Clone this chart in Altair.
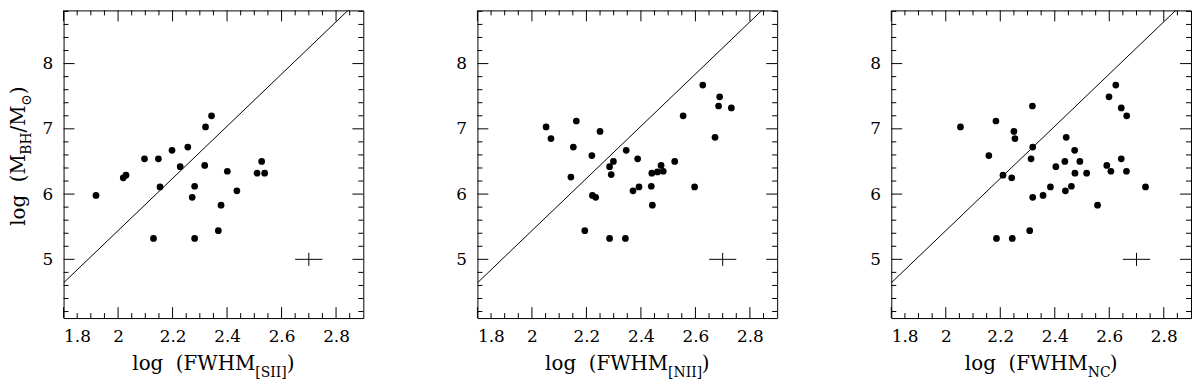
import altair as alt
import pandas as pd

# ---------------- data ----------------
X_DOMAIN = [1.8, 2.9]
Y_DOMAIN = [4.1, 8.815]

sii_x = [1.919, 2.019, 2.029, 2.097, 2.148, 2.154, 2.130, 2.198, 2.228, 2.256, 2.272, 2.281,
         2.281, 2.318, 2.321, 2.343, 2.368, 2.378, 2.401, 2.436, 2.510, 2.527, 2.538]
sii_y = [5.98, 6.25, 6.29, 6.54, 6.54, 6.11, 5.32, 6.67, 6.42, 6.72, 5.95, 6.12,
         5.32, 6.44, 7.03, 7.20, 5.44, 5.83, 6.35, 6.05, 6.32, 6.50, 6.32]

nii_x = [2.052, 2.070, 2.163, 2.152, 2.143, 2.220, 2.250, 2.222, 2.234, 2.194, 2.285, 2.299,
         2.291, 2.285, 2.343, 2.346, 2.371, 2.388, 2.393, 2.438, 2.440, 2.442, 2.461, 2.474,
         2.482, 2.524, 2.555, 2.597, 2.627, 2.672, 2.685, 2.689, 2.732]
nii_y = [7.03, 6.85, 7.12, 6.72, 6.26, 6.59, 6.96, 5.98, 5.95, 5.44, 6.42, 6.50,
         6.30, 5.32, 5.32, 6.67, 6.05, 6.54, 6.11, 6.12, 6.32, 5.83, 6.34, 6.44,
         6.35, 6.50, 7.20, 6.11, 7.67, 6.87, 7.35, 7.49, 7.32]

nc_x = [2.054, 2.158, 2.184, 2.186, 2.210, 2.242, 2.250, 2.254, 2.244, 2.318, 2.319, 2.313,
        2.319, 2.308, 2.357, 2.384, 2.404, 2.437, 2.439, 2.442, 2.461, 2.473, 2.474, 2.492,
        2.517, 2.557, 2.591, 2.599, 2.606, 2.624, 2.644, 2.644, 2.664, 2.663, 2.733]
nc_y = [7.03, 6.59, 7.12, 5.32, 6.29, 6.25, 6.96, 6.85, 5.32, 7.35, 6.72, 6.54,
        5.95, 5.44, 5.98, 6.11, 6.42, 6.50, 6.05, 6.87, 6.12, 6.67, 6.32, 6.50,
        6.32, 5.83, 6.44, 7.49, 6.35, 7.67, 7.32, 6.54, 7.20, 6.35, 6.11]

# reference relation drawn in every panel
FIT_SLOPE = 4.0
FIT_INTERCEPT = -2.56
LINE_X = [1.8, 2.9]

# typical error bar
ERR_X, ERR_Y = [2.7], [5.0]
ERR_DX, ERR_DY = 0.05, 0.1

X_TICK_VALUES = [1.8, 2.0, 2.2, 2.4, 2.6, 2.8]
X_MINOR = [round(1.8 + 0.05 * i, 2) for i in range(1, 22) if i % 4]
Y_TICK_VALUES = [5, 6, 7, 8]
Y_MINOR = [round(4.2 + 0.2 * i, 1) for i in range(24) if abs((4.2 + 0.2 * i) - round(4.2 + 0.2 * i)) > 1e-6]

XT_MAIN = "log\u00a0 (FWHM"
XT_SUBS = ["[SII]", "[NII]", "NC"]
XT_CLOSE = ")"
YT_PARTS = ["log\u00a0 (M", "BH", "/M", "\u2299", ")"]

# ---------------- styling ----------------
W, H = 302, 310
FONT = "DejaVu Serif"
MAIN_FS, SUB_FS, LAB_FS = 20, 14, 17
MAJOR_LEN, MINOR_LEN = 11, 5
EM = {" ": 0.318, "\u00a0": 0.318, "(": 0.390, ")": 0.390, "/": 0.337, "[": 0.390, "]": 0.390,
      "B": 0.732, "C": 0.735, "F": 0.715, "H": 0.871, "I": 0.402, "M": 0.994, "N": 0.836,
      "S": 0.685, "W": 1.030, "g": 0.640, "l": 0.320, "o": 0.602, "\u2299": 0.838}


def tw(s, fs):
    return sum(EM.get(c, 0.6) for c in s) * fs


xs = alt.Scale(domain=X_DOMAIN, nice=False, zero=False)
ys = alt.Scale(domain=Y_DOMAIN, nice=False, zero=False)
AX_X = alt.Axis(values=X_TICK_VALUES, format="~g", title=None, grid=False, domain=False,
                ticks=False, tickSize=0, labelPadding=11, labelFont=FONT,
                labelFontSize=LAB_FS, labelColor="black")
AX_Y = alt.Axis(values=Y_TICK_VALUES, format="d", title=None, grid=False, domain=False,
                ticks=False, tickSize=0, labelPadding=11, labelFont=FONT,
                labelFontSize=LAB_FS, labelColor="black")
X = lambda f: alt.X(f, type="quantitative", scale=xs, axis=AX_X)
Y = lambda f: alt.Y(f, type="quantitative", scale=ys, axis=AX_Y)


def text_layer(s, x, y, fs, angle=0):
    return alt.Chart(pd.DataFrame({"t": [s]})).mark_text(
        align="left", baseline="alphabetic", font=FONT, fontSize=fs, color="black", angle=angle
    ).encode(x=alt.value(x), y=alt.value(y), text="t:N")


def panel(px, py, sub, ytitle):
    layers = []
    pts = pd.DataFrame({"x": px, "y": py})
    layers.append(alt.Chart(pts).mark_circle(size=46, color="black", opacity=1).encode(x=X("x"), y=Y("y")))

    line_df = pd.DataFrame({"x": LINE_X, "y": [FIT_SLOPE * v + FIT_INTERCEPT for v in LINE_X]})
    layers.append(alt.Chart(line_df).mark_line(color="black", strokeWidth=1, clip=True).encode(x=X("x"), y=Y("y")))

    err = pd.DataFrame({"xc": ERR_X, "yc": ERR_Y,
                        "x0": [v - ERR_DX for v in ERR_X], "x1": [v + ERR_DX for v in ERR_X],
                        "y0": [v - ERR_DY for v in ERR_Y], "y1": [v + ERR_DY for v in ERR_Y]})
    layers.append(alt.Chart(err).mark_rule(color="black", strokeWidth=1).encode(x=X("x0"), x2="x1", y=Y("yc")))
    layers.append(alt.Chart(err).mark_rule(color="black", strokeWidth=1).encode(x=X("xc"), y=Y("y0"), y2="y1"))

    for vals, ln in ((X_TICK_VALUES, MAJOR_LEN), (X_MINOR, MINOR_LEN)):
        d = pd.DataFrame({"x": vals})
        layers.append(alt.Chart(d).mark_rule(color="black", strokeWidth=1).encode(
            x=X("x"), y=alt.value(H), y2=alt.value(H - ln)))
        layers.append(alt.Chart(d).mark_rule(color="black", strokeWidth=1).encode(
            x=X("x"), y=alt.value(0), y2=alt.value(ln)))
    for vals, ln in ((Y_TICK_VALUES, MAJOR_LEN), (Y_MINOR, MINOR_LEN)):
        d = pd.DataFrame({"y": vals})
        layers.append(alt.Chart(d).mark_rule(color="black", strokeWidth=1).encode(
            y=Y("y"), x=alt.value(0), x2=alt.value(ln)))
        layers.append(alt.Chart(d).mark_rule(color="black", strokeWidth=1).encode(
            y=Y("y"), x=alt.value(W), x2=alt.value(W - ln)))

    # x title with subscript
    w_main, w_sub, w_close = tw(XT_MAIN, MAIN_FS), tw(sub, SUB_FS), tw(XT_CLOSE, MAIN_FS)
    x0 = W / 2 - (w_main + w_sub + w_close) / 2
    ybase = 362
    layers.append(text_layer(XT_MAIN, x0, ybase, MAIN_FS))
    layers.append(text_layer(sub, x0 + w_main, ybase + 7, SUB_FS))
    layers.append(text_layer(XT_CLOSE, x0 + w_main + w_sub, ybase, MAIN_FS))

    if ytitle:
        xb = -39
        yy = 217
        for i, part in enumerate(YT_PARTS):
            is_sub = i in (1, 3)
            fs = SUB_FS if is_sub else MAIN_FS
            layers.append(text_layer(part, xb + (6 if is_sub else 0), yy, fs, angle=270))
            yy -= tw(part, fs)

    return alt.layer(*layers).properties(width=W, height=H)


chart = alt.hconcat(
    panel(sii_x, sii_y, XT_SUBS[0], True),
    panel(nii_x, nii_y, XT_SUBS[1], False),
    panel(nc_x, nc_y, XT_SUBS[2], False),
    spacing=115, bounds="flush",
).properties(
    padding={"left": 0, "top": 0, "right": 0, "bottom": 0}
).configure_view(stroke="black", strokeWidth=1)

chart.save("out.html", embed_options={"renderer": "svg", "actions": False})
